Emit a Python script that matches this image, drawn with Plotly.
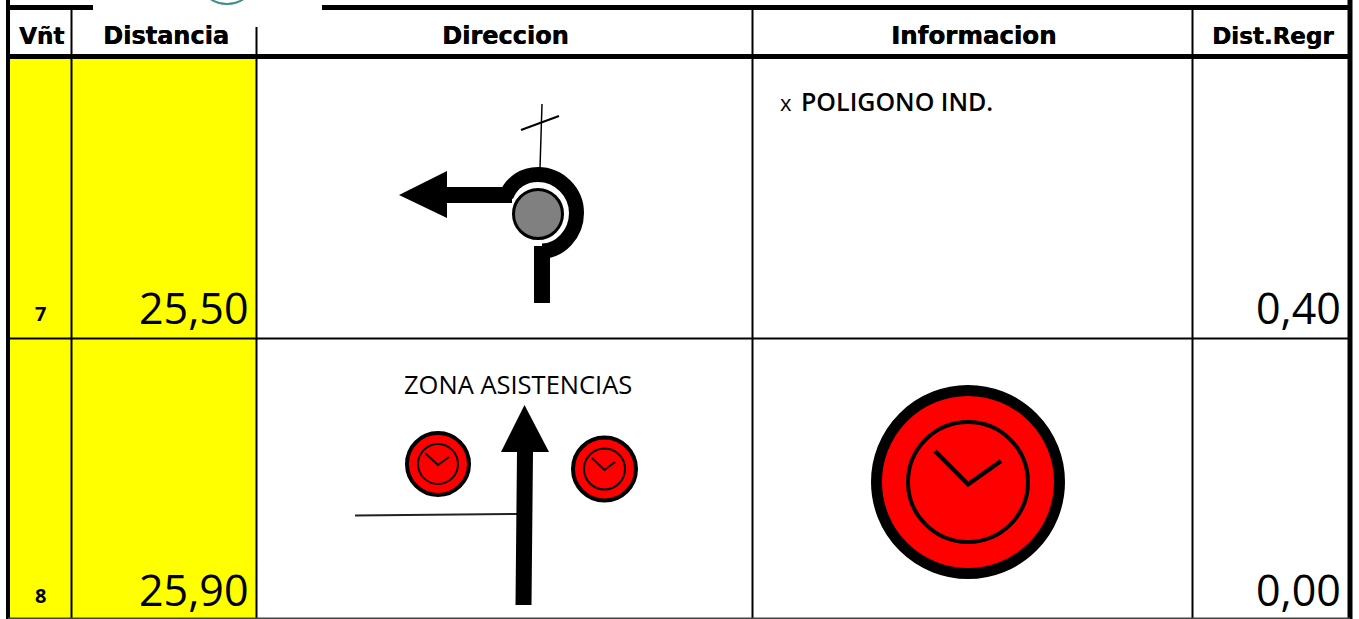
import plotly.graph_objects as go

HEADERS = ["Vñt", "Distancia", "Direccion", "Informacion", "Dist.Regr"]
WAYPOINTS = ["7", "8"]
DISTANCES = ["25,50", "25,90"]
REGROUPS = ["0,40", "0,00"]
INFO_PREFIX = "x"
INFO_TEXT = "POLIGONO IND."
ZONE_TEXT = "ZONA ASISTENCIAS"

W, H = 1359, 619
HEAD_FONT = "DejaVu Sans"
BODY_FONT = "Open Sans"
shapes, ann = [], []


def rect(x0, y0, x1, y1, color):
    shapes.append(dict(type="rect", xref="x", yref="y", x0=x0, y0=y0, x1=x1, y1=y1,
                       fillcolor=color, line=dict(width=0), layer="above"))


def line(x0, y0, x1, y1, width, color="#000000"):
    shapes.append(dict(type="line", xref="x", yref="y", x0=x0, y0=y0, x1=x1, y1=y1,
                       line=dict(width=width, color=color), layer="above"))


def circle(cx, cy, r, fill, width, color="#000000"):
    shapes.append(dict(type="circle", xref="x", yref="y", x0=cx - r, y0=cy - r, x1=cx + r, y1=cy + r,
                       fillcolor=fill, line=dict(width=width, color=color), layer="above"))


def path(d, fill=None, width=0, color="#000000"):
    s = dict(type="path", xref="x", yref="y", path=d, layer="above",
             line=dict(width=width, color=color))
    if fill:
        s["fillcolor"] = fill
    shapes.append(s)


def text(x, y, s, size, anchor="center", bold=False, font=BODY_FONT, color="#000000", weight=None, shadow=None):
    f = dict(family=font, size=size, color=color)
    if weight:
        f["weight"] = weight
    if shadow:
        f["shadow"] = shadow
    ann.append(dict(x=x, y=y, xref="x", yref="y", text=f"<b>{s}</b>" if bold else s,
                    showarrow=False, xanchor=anchor, yanchor="middle", font=f))


def clock(cx, cy, ro, wo, ri, wi, hand_l, hand_r, hw):
    circle(cx, cy, ro, "#ff0000", wo)
    circle(cx, cy, ri, "rgba(0,0,0,0)", wi)
    path(f"M {hand_l[0]} {hand_l[1]} L {cx} {cy + hw / 2} L {hand_r[0]} {hand_r[1]}",
         width=hw)


# yellow columns
rect(10, 58, 256, 619, "#ffff00")

# grid
line(8, 0, 8, 619, 4)
line(1350, 0, 1350, 619, 5)
line(10, 7.5, 93, 7.5, 5)
line(322, 7.5, 1350, 7.5, 5)
line(8, 56.5, 1350, 56.5, 5)
line(71.5, 10, 71.5, 619, 2)
line(256.5, 27, 256.5, 619, 2)
line(752.5, 10, 752.5, 619, 2)
line(1192.5, 10, 1192.5, 619, 2)
line(8, 338.5, 1350, 338.5, 2)
line(8, 618.5, 1350, 618.5, 2, "#444444")

# logo fragment at the top
circle(227, -26, 30, "rgba(0,0,0,0)", 2, "#3e8f8a")

# roundabout
line(542, 104, 540, 168, 1.5)
line(521, 130, 559, 116, 2)
path("M 506 196 C 512 182 524 174.5 538 174.5 C 559 174.5 576.5 192 576.5 213 "
     "C 576.5 234 560 251 542 251", width=15)
rect(534, 246, 550, 303, "#000000")
rect(445, 187, 512, 203, "#000000")
path("M 399 195 L 447 171 L 447 218 Z", fill="#000000")
circle(538, 214, 24.5, "#808080", 3)

# arrow with side road and small clocks
line(355, 515.5, 517, 514, 2, "#222222")
path("M 517 452 L 533 452 L 531.5 605 L 515.5 605 Z", fill="#000000")
path("M 524.5 405 L 549 452 L 501 452 Z", fill="#000000")
clock(438, 464, 31, 4, 20, 2, (425, 453), (449, 457), 2)
clock(604.5, 469, 31.5, 4, 20.5, 2, (592, 458), (615, 462), 2)

# large clock
clock(968, 482, 91.5, 11, 60, 4, (935, 451), (1001, 461), 4.5)

# headers
for x, label, size in zip([41, 165.5, 505.5, 973.5, 1272.5], HEADERS, [23, 24, 24, 24.5, 23]):
    text(x, 35.5, label, size, bold=True, font=HEAD_FONT, shadow="0.5px 0 0 #000000")

# rows
for i, y in enumerate([307.5, 589]):
    text(40, y + 6, WAYPOINTS[i], 20, bold=True)
    text(250, y, DISTANCES[i], 43, anchor="right")
    text(1343, y, REGROUPS[i], 43, anchor="right")

text(778, 102, INFO_PREFIX, 22, anchor="left")
text(799, 100.5, INFO_TEXT, 25, anchor="left", weight=600)
text(518, 384, ZONE_TEXT, 25.5)

fig = go.Figure()
fig.update_layout(
    width=W, height=H, margin=dict(l=0, r=0, t=0, b=0), showlegend=False,
    paper_bgcolor="#ffffff", plot_bgcolor="#ffffff",
    xaxis=dict(range=[0, W], visible=False, fixedrange=True),
    yaxis=dict(range=[H, 0], visible=False, fixedrange=True),
    shapes=shapes, annotations=ann,
)
fig.write_html("out.html", config=dict(displayModeBar=False),
               post_script="document.body.style.margin='0';")
